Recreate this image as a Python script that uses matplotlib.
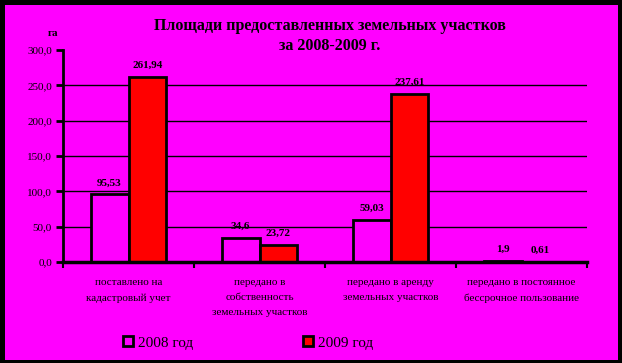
import matplotlib
matplotlib.use("Agg")
import matplotlib.pyplot as plt
from matplotlib.patches import Rectangle
import numpy as np

categories = ["поставлено на\nкадастровый учет",
              "передано в\nсобственность\nземельных участков",
              "передано в аренду\nземельных участков",
              "передано в постоянное\nбессрочное пользование"]
series_names = ["2008 год", "2009 год"]
values_2008 = [95.53, 34.6, 59.03, 1.9]
values_2009 = [261.94, 23.72, 237.61, 0.61]
labels_2008 = ["95,53", "34,6", "59,03", "1,9"]
labels_2009 = ["261,94", "23,72", "237,61", "0,61"]
yticks = [0, 50, 100, 150, 200, 250, 300]
ytick_labels = ["0,0", "50,0", "100,0", "150,0", "200,0", "250,0", "300,0"]

W, H = 622, 363
fig = plt.figure(figsize=(W / 100, H / 100), dpi=100, facecolor="black")
fig.patches.append(Rectangle((5 / W, 3 / H), 613 / W, 355 / H, transform=fig.transFigure,
                             facecolor="#FF00FF", edgecolor="none", zorder=-10))

serif = ["Liberation Serif", "DejaVu Serif"]
ax = fig.add_axes([63 / W, 1 - 262 / H, 524 / W, 212 / H])
ax.set_zorder(1)
ax.patch.set_alpha(0)

x = np.arange(len(categories)) + 0.5
bw = 0.29
ax.bar(x - bw / 2, values_2008, bw, color="#FF00FF", edgecolor="black", linewidth=2, zorder=3)
ax.bar(x + bw / 2, values_2009, bw, color="#FF0000", edgecolor="black", linewidth=2, zorder=3)

for xi, v, l in zip(x - bw / 2, values_2008, labels_2008):
    ax.text(xi, v + 10, l, ha="center", va="bottom", fontsize=8, fontweight="bold", family=serif)
for xi, v, l in zip(x + bw / 2, values_2009, labels_2009):
    ax.text(xi, v + 10, l, ha="center", va="bottom", fontsize=8, fontweight="bold", family=serif)

ax.set_xlim(0, 4)
ax.set_ylim(0, 300)
ax.set_yticks(yticks)
ax.set_yticklabels(ytick_labels, family=serif, fontsize=8)
ax.set_xticks([0, 1, 2, 3, 4])
ax.set_xticklabels([])
ax.tick_params(axis="y", direction="out", length=5, width=2, pad=3)
ax.tick_params(axis="x", direction="out", length=4, width=1.5)
for yv in yticks[1:-1]:
    ax.axhline(yv, color="black", linewidth=1, zorder=1)
for s in ["top", "right"]:
    ax.spines[s].set_visible(False)
ax.spines["left"].set_linewidth(2)
ax.spines["bottom"].set_linewidth(2.5)
ax.spines["bottom"].set_zorder(4)

for xi, c in zip(x, categories):
    ax.text(xi, -0.075, c, transform=ax.get_xaxis_transform(), ha="center", va="top",
            fontsize=8, family=serif, linespacing=1.85)

fig.text(330 / W, 1 - 26 / H, "Площади предоставленных земельных участков",
         ha="center", va="center", fontsize=11.5, fontweight="bold", family=serif)
fig.text(330 / W, 1 - 46 / H, "за 2008-2009 г.",
         ha="center", va="center", fontsize=11.5, fontweight="bold", family=serif)
fig.text(53 / W, 1 - 33 / H, "га", ha="center", va="center", fontsize=8,
         fontweight="bold", family=serif)

# legend
leg_x = [128, 308]
colors = ["#FF00FF", "#FF0000"]
for lx, col, name in zip(leg_x, colors, series_names):
    fig.patches.append(Rectangle(((lx - 5) / W, 1 - 346 / H), 10 / W, 10 / H,
                                 transform=fig.transFigure, facecolor=col,
                                 edgecolor="black", linewidth=2, zorder=3))
    fig.text((lx + 10) / W, 1 - 343 / H, name, ha="left", va="center",
             fontsize=11, family=serif)

fig.savefig("out.png", dpi=100, facecolor="black")
